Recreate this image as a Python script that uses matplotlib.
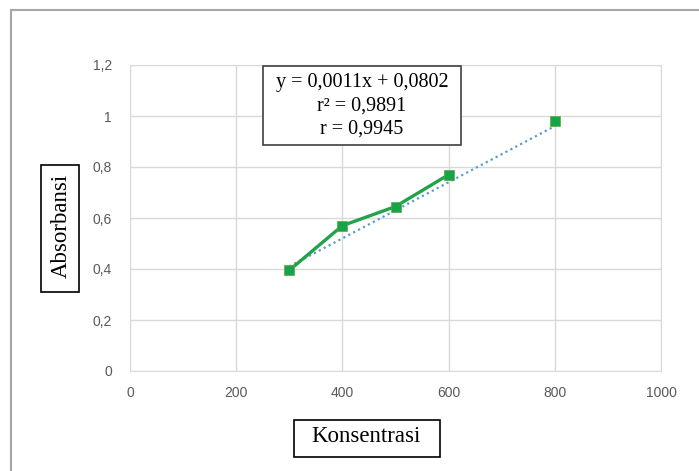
import numpy as np
import matplotlib.pyplot as plt
from matplotlib.patches import Rectangle

# data
konsentrasi = [300, 400, 500, 600]
absorbansi = [0.395, 0.57, 0.645, 0.77]
x_extra = [800]
y_extra = [0.98]
slope = 0.0011
intercept = 0.0802
eq_lines = ["y = 0,0011x + 0,0802", "r\u00b2 = 0,9891", "r = 0,9945"]
xticks = [0, 200, 400, 600, 800, 1000]
yticks = [0, 0.2, 0.4, 0.6, 0.8, 1.0, 1.2]
ytick_labels = ["0", "0,2", "0,4", "0,6", "0,8", "1", "1,2"]

W, H = 699, 471
fig = plt.figure(figsize=(W/100, H/100), dpi=100)
ax = fig.add_axes([130/W, 1-371/H, 531/W, 306/H])


def box(x0, y0, x1, y1, ec='black'):
    # pixel coords from top-left
    fig.patches.append(Rectangle((x0/W, 1-y1/H), (x1-x0)/W, (y1-y0)/H, transform=fig.transFigure,
                                 facecolor='white', edgecolor=ec, linewidth=1.2, zorder=5))


# outer chart border (cut off at right/bottom)
fig.patches.append(Rectangle((11/W, -0.1), 1.2, 1-10/H+0.1, transform=fig.transFigure,
                             fill=False, edgecolor='#a6a6a6', linewidth=1.5))

# trendline
tx = np.array([konsentrasi[0], x_extra[-1]])
ax.plot(tx, slope*tx + intercept, color='#5b9bd5', linestyle=(0, (1, 1.5)), linewidth=1.6, zorder=2)

ax.plot(konsentrasi, absorbansi, color='#22a34a', linewidth=2.4, marker='s', markersize=6.5,
        markerfacecolor='#17a34a', markeredgecolor='#5fa83a', markeredgewidth=0.5, zorder=3)
ax.plot(x_extra, y_extra, linestyle='none', marker='s', markersize=6.5,
        markerfacecolor='#17a34a', markeredgecolor='#5fa83a', markeredgewidth=0.5, zorder=3)

ax.set_xlim(0, 1000)
ax.set_ylim(0, 1.2)
ax.set_xticks(xticks)
ax.set_yticks(yticks)
ax.set_yticklabels(ytick_labels)
ax.grid(True, color='#d9d9d9', linewidth=1)
ax.set_axisbelow(True)
for s in ['top', 'right', 'left', 'bottom']:
    ax.spines[s].set_color('#d9d9d9')
ax.tick_params(length=0, labelsize=10, labelcolor='#595959')
ax.tick_params(axis='x', pad=11)
ax.tick_params(axis='y', pad=13)
for lab in ax.get_xticklabels() + ax.get_yticklabels():
    lab.set_fontfamily('Liberation Sans')

# equation box
box(263, 66, 461, 145, ec='#404040')
fig.text(362/W, 1-106/H, "\n".join(eq_lines), ha='center', va='center', zorder=6,
         family='Liberation Serif', fontsize=14.5, linespacing=1.3)

# axis title boxes
box(41, 165, 79, 292)
fig.text(61/W, 1-226/H, "Absorbansi", rotation=90, ha='center', va='center', zorder=6,
         family='Liberation Serif', fontsize=16.5)
box(294, 420, 440, 457)
fig.text(366/W, 1-437/H, "Konsentrasi", ha='center', va='center', zorder=6,
         family='Liberation Serif', fontsize=16.5)

plt.savefig('out.png', dpi=100)
